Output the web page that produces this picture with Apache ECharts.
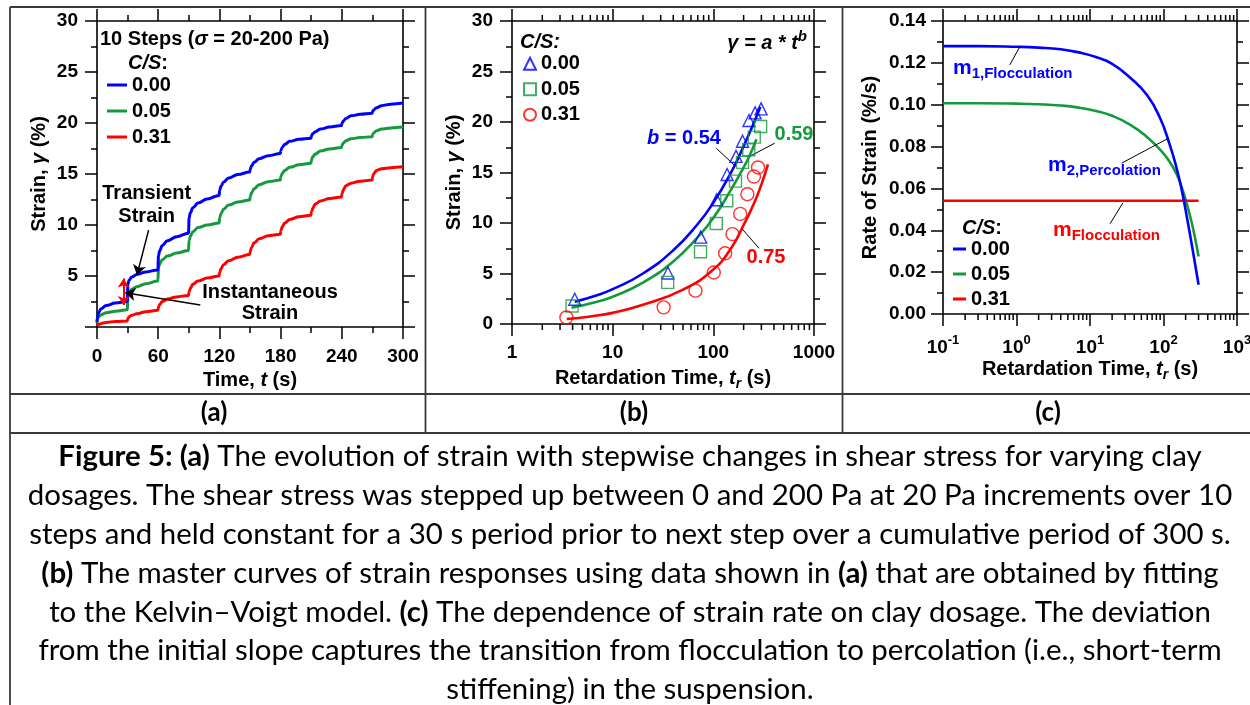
<!DOCTYPE html>
<html><head><meta charset="utf-8">
<script src="https://cdn.jsdelivr.net/npm/echarts@6/dist/echarts.min.js"></script>
<style>html,body{margin:0;padding:0;background:#fff}#main{width:1250px;height:705px}</style>
</head><body><div id="main"></div>
<script>
// ---------------- DATA ----------------
// Panel (a): strain (%) vs time (s) for three clay dosages (C/S)
const aTime = [0,0.3,1.5,4,9,18,29.7, 30.3,31.5,34,39,48,59.7, 60.3,61.5,64,69,78,89.7, 90.3,91.5,94,99,108,119.7,
  120.3,121.5,124,129,138,149.7, 150.3,151.5,154,159,168,179.7, 180.3,181.5,184,189,198,209.7,
  210.3,211.5,214,219,228,239.7, 240.3,241.5,244,249,258,269.7, 270.3,271.5,274,279,288,300];
const aStrain000 = [0.5,0.9,1.4,1.8,2.1,2.35,2.5, 4.2,4.6,4.9,5.15,5.4,5.6, 7.0,7.5,8.0,8.45,8.85,9.2,
  10.7,11.2,11.7,12.15,12.55,12.9, 13.4,13.8,14.2,14.6,14.95,15.2, 15.5,15.8,16.15,16.5,16.8,17.0,
  17.3,17.6,17.9,18.2,18.4,18.5, 18.75,18.95,19.15,19.4,19.6,19.75, 20.0,20.2,20.45,20.7,20.85,20.95,
  21.15,21.3,21.5,21.7,21.85,21.95];
const aStrain005 = [0.4,0.75,1.0,1.2,1.4,1.55,1.7, 3.1,3.4,3.7,3.95,4.25,4.5, 5.8,6.2,6.6,6.95,7.25,7.5,
  8.5,8.9,9.35,9.75,10.0,10.2, 10.7,11.1,11.55,11.95,12.25,12.45, 12.8,13.15,13.55,13.95,14.25,14.4,
  14.75,15.05,15.35,15.65,15.9,16.05, 16.4,16.7,16.95,17.25,17.45,17.6, 17.85,18.05,18.25,18.45,18.58,18.65,
  18.9,19.05,19.25,19.4,19.52,19.6];
const aStrain031 = [0.1,0.15,0.25,0.35,0.45,0.55,0.6, 0.85,1.0,1.15,1.3,1.5,1.65, 1.95,2.2,2.5,2.75,2.95,3.1,
  3.45,3.8,4.2,4.5,4.8,5.0, 5.35,5.7,6.1,6.5,6.85,7.1, 7.45,7.8,8.25,8.65,8.95,9.1,
  9.45,9.8,10.2,10.55,10.8,10.95, 11.3,11.65,12.05,12.35,12.6,12.75, 13.1,13.45,13.85,14.1,14.3,14.4,
  14.75,15.05,15.35,15.52,15.62,15.7];

// Panel (b): strain (%) vs retardation time (s), measured points
const bTime000 = [4.2,35.4,74.9,108,137,168,195,226,260,298];
const bStrain000 = [2.45,5.05,8.6,12.3,14.8,16.6,18.1,20.15,20.9,21.3];
const bTime005 = [3.95,35.2,74.6,107,136,166,195,225,255,295];
const bStrain005 = [1.78,4.12,7.15,9.95,12.2,14.15,16.0,17.25,18.5,19.55];
const bTime031 = [3.47,32.1,66.4,101,131,155,185,218,253,278];
const bStrain031 = [0.65,1.65,3.3,5.1,7.0,8.9,10.9,12.85,14.6,15.5];
// Panel (b): fitted power-law curves
const fitTime000 = [4.2,7,10,20,40,70,100,150,200,250,293];
const fitStrain000 = [2.2,2.85,3.45,5.0,7.3,9.9,12.0,15.0,17.6,19.8,21.5];
const fitTime005 = [3.9,7,10,20,40,70,100,150,200,230,268];
const fitStrain005 = [1.6,2.2,2.7,4.1,6.2,8.6,10.5,13.3,15.5,16.7,18.3];
const fitTime031 = [3.5,6,10,20,50,100,150,200,250,300,349];
const fitStrain031 = [0.5,0.75,1.1,1.9,3.4,5.4,7.5,9.8,11.8,13.8,15.8];

// Panel (c): rate of strain (%/s) vs retardation time (s)
const cTime000 = [0.1,0.3,1,2,4,7,12,20,35,60,90,120,150,180,210,240,270,300];
const cRate000 = [0.128,0.128,0.1277,0.1273,0.1265,0.125,0.1228,0.1195,0.113,0.1045,0.0935,0.0815,0.070,0.058,0.0455,0.034,0.0235,0.014];
const cTime005 = [0.1,0.3,1,2,4,7,12,20,35,60,90,120,150,180,210,240,270,300];
const cRate005 = [0.1007,0.1007,0.1005,0.1002,0.0996,0.0986,0.097,0.0947,0.0905,0.0845,0.0785,0.073,0.067,0.0598,0.052,0.0442,0.036,0.0275];
const cTime031 = [0.1,300];
const cRate031 = [0.0541,0.0541];

// tick values
const bMinorTicks = [2,3,4,5,6,7,8,9,20,30,40,50,60,70,80,90,200,300,400,500,600,700,800,900];
const cMinorTicks = [0.2,0.3,0.4,0.5,0.6,0.7,0.8,0.9,2,3,4,5,6,7,8,9,20,30,40,50,60,70,80,90,200,300,400,500,600,700,800,900];
const legendNames = ['0.00','0.05','0.31'];

const captionLines = [
  '{b|Figure 5: (a)} The evolution of strain with stepwise changes in shear stress for varying clay',
  'dosages. The shear stress was stepped up between 0 and 200 Pa at 20 Pa increments over 10',
  'steps and held constant for a 30 s period prior to next step over a cumulative period of 300 s.',
  '{b|(b)} The master curves of strain responses using data shown in {b|(a)} that are obtained by fitting',
  'to the Kelvin\u2013Voigt model. {b|(c)} The dependence of strain rate on clay dosage. The deviation',
  'from the initial slope captures the transition from flocculation to percolation (i.e., short-term',
  'stiffening) in the suspension.'
];

// ---------------- STYLE ----------------
const AR = '"Liberation Sans", Arial, sans-serif';
const CAL = 'Lato, "Open Sans", sans-serif';
const BLUE = '#0000ff', GREEN = '#149a3c', RED = '#ff0000';
const zip = (xs, ys) => xs.map((x, i) => [x, ys[i]]);

const axLine = {show: true, onZero: false, lineStyle: {color: '#000', width: 1.6}};
const tick = {show: true, inside: false, length: 12, lineStyle: {color: '#000', width: 1.5}};
const minor = n => ({show: true, splitNumber: n, length: 6, lineStyle: {color: '#000', width: 1.5}});
const lbl = {fontFamily: AR, fontWeight: 'bold', fontSize: 19, color: '#000'};
const nm = (extra) => Object.assign({fontFamily: AR, fontWeight: 'bold', fontSize: 20, color: '#000'}, extra || {});
const nameRich = {
  n: nm(), i: nm({fontStyle: 'italic'}),
  s: nm({fontSize: 14, fontStyle: 'italic', padding: [11, 0, 0, 0]})
};

function xBottom(grid, extra) {
  return Object.assign({gridIndex: grid, position: 'bottom', axisLine: axLine, axisTick: tick,
    splitLine: {show: false}, minorSplitLine: {show: false}, nameLocation: 'middle',
    nameTextStyle: nm({rich: nameRich})}, extra);
}
function xTop(grid, extra) {
  return Object.assign({gridIndex: grid, position: 'top', axisLine: axLine, axisTick: tick,
    axisLabel: {show: false}, splitLine: {show: false}, minorSplitLine: {show: false}}, extra);
}
function yLeft(grid, extra) {
  return Object.assign({gridIndex: grid, position: 'left', type: 'value', axisLine: axLine, axisTick: tick,
    splitLine: {show: false}, minorSplitLine: {show: false}, nameLocation: 'middle',
    nameTextStyle: nm({rich: nameRich})}, extra);
}
function yRight(grid, extra) {
  return Object.assign({gridIndex: grid, position: 'right', type: 'value', axisLine: axLine, axisTick: tick,
    axisLabel: {show: false}, splitLine: {show: false}, minorSplitLine: {show: false}}, extra);
}

function minorLogRender(yMin, yMax) {
  return function (params, api) {
    const v = api.value(0);
    const b = api.coord([v, yMin]);
    const t = api.coord([v, yMax]);
    const st = {stroke: '#000', lineWidth: 1.5};
    return {type: 'group', children: [
      {type: 'line', shape: {x1: b[0], y1: b[1], x2: b[0], y2: b[1] + 6}, style: st},
      {type: 'line', shape: {x1: t[0], y1: t[1], x2: t[0], y2: t[1] - 6}, style: st}
    ]};
  };
}

const leader = (pairs) => ({
  silent: true, symbol: ['none', 'none'], label: {show: false}, emphasis: {disabled: true},
  lineStyle: {color: '#000', width: 1, type: 'solid'},
  data: pairs.map(p => [{coord: p[0]}, {coord: p[1]}])
});

// ---------------- TEXT HELPERS ----------------
function rt(extra) { return Object.assign({fontFamily: AR, fontWeight: 'bold', fontSize: 20, fill: '#000'}, extra || {}); }
function T(x, y, text, opts) {
  return {type: 'text', x: x, y: y, silent: true,
    style: Object.assign({text: text, fontFamily: AR, fontWeight: 'bold', fontSize: 20, fill: '#000',
      align: 'left', verticalAlign: 'middle'}, opts || {})};
}
function L(x1, y1, x2, y2) {
  return {type: 'line', silent: true, shape: {x1, y1, x2, y2}, style: {stroke: '#3a3a3a', lineWidth: 1.8}};
}

// caption font size fitted to the reference line width
const mctx = document.createElement('canvas').getContext('2d');
mctx.font = '28px Lato';
const capFs = Math.min(30, 28 * 1205 / mctx.measureText(captionLines[1]).width);

const graphics = [
  L(10, 7, 1250, 7), L(10, 7, 10, 705), L(425.5, 7, 425.5, 433), L(842.5, 7, 842.5, 433),
  L(10, 394, 1250, 394), L(10, 433, 1250, 433),
  T(214, 413, '(a)', {fontFamily: CAL, fontSize: 26, align: 'center'}),
  T(634, 413, '(b)', {fontFamily: CAL, fontSize: 26, align: 'center'}),
  T(1048, 413, '(c)', {fontFamily: CAL, fontSize: 26, align: 'center'}),
  // panel a
  T(100, 39, '10 Steps ({i|\u03c3} = 20-200 Pa)', {rich: {i: rt({fontStyle: 'italic'})}}),
  T(128, 63, '{i|C/S}:', {rich: {i: rt({fontStyle: 'italic'})}}),
  T(146.7, 205, 'Transient\nStrain', {align: 'center', lineHeight: 23.4}),
  T(270, 303, 'Instantaneous\nStrain', {align: 'center', lineHeight: 21.7}),
  // panel b
  T(520, 42, '{i|C/S:}', {rich: {i: rt({fontStyle: 'italic'})}}),
  T(807, 43, '{i|\u03b3 = a * t}{p|b}', {align: 'right', rich: {
    i: rt({fontStyle: 'italic'}), p: rt({fontStyle: 'italic', fontSize: 15, padding: [0, 0, 12, 0]})}}),
  T(684, 138, '{i|b}{n| = 0.54}', {align: 'center', rich: {
    i: rt({fontStyle: 'italic', fill: BLUE}), n: rt({fill: BLUE})}}),
  T(794, 134, '0.59', {align: 'center', fill: GREEN}),
  T(766, 257, '0.75', {align: 'center', fill: RED}),
  // panel c
  T(953, 68, '{m|m}{s|1,Flocculation}', {rich: {m: rt({fontSize: 21, fill: BLUE}), s: rt({fontSize: 15, fill: BLUE, padding: [12, 0, 0, 0]})}}),
  T(1048, 165, '{m|m}{s|2,Percolation}', {rich: {m: rt({fontSize: 21, fill: BLUE}), s: rt({fontSize: 15, fill: BLUE, padding: [12, 0, 0, 0]})}}),
  T(1053, 230, '{m|m}{s|Flocculation}', {rich: {m: rt({fontSize: 21, fill: RED}), s: rt({fontSize: 15, fill: RED, padding: [12, 0, 0, 0]})}}),
  T(962, 228, '{i|C/S}:', {rich: {i: rt({fontStyle: 'italic'})}})
];
captionLines.forEach((line, i) => {
  graphics.push(T(630, 457 + i * 38.8, line, {
    fontFamily: CAL, fontWeight: 'normal', fontSize: capFs, align: 'center',
    rich: {b: rt({fontFamily: CAL, fontSize: capFs, fontWeight: 'bold'})}
  }));
});

// ---------------- OPTION ----------------
const legendBase = {orient: 'vertical', padding: 0, itemGap: 0, selectedMode: false,
  formatter: n => n.split(':')[1]};
const legendText = (lh) => ({fontFamily: AR, fontWeight: 'bold', fontSize: 20, color: '#000', lineHeight: lh});

const option = {
  animation: false,
  backgroundColor: '#fff',
  grid: [
    {left: 97, top: 21, width: 306, height: 306, outerBoundsMode: 'none'},
    {left: 512, top: 21, width: 302, height: 303, outerBoundsMode: 'none'},
    {left: 943, top: 21, width: 294, height: 293, outerBoundsMode: 'none'}
  ],
  xAxis: [
    xBottom(0, {type: 'value', min: 0, max: 300, interval: 60, minorTick: minor(2),
      axisLabel: Object.assign({}, lbl, {margin: 20}),
      name: '{n|Time, }{i|t}{n| (s)}', nameGap: 43}),
    xTop(0, {type: 'value', min: 0, max: 300, interval: 60, minorTick: minor(2)}),
    xBottom(1, {type: 'log', logBase: 10, min: 1, max: 1000,
      axisLabel: Object.assign({}, lbl, {margin: 19, formatter: v => String(Math.round(v))}),
      name: '{n|Retardation Time, }{i|t}{s|r}{n| (s)}', nameGap: 42}),
    xTop(1, {type: 'log', logBase: 10, min: 1, max: 1000}),
    xBottom(2, {type: 'log', logBase: 10, min: 0.1, max: 1000,
      axisLabel: Object.assign({}, lbl, {margin: 20,
        formatter: v => '10{p|' + Math.round(Math.log10(v)) + '}',
        rich: {p: {fontFamily: AR, fontWeight: 'bold', fontSize: 13, color: '#000', padding: [0, 0, 14, 0]}}}),
      name: '{n|Retardation Time, }{i|t}{s|r}{n| (s)}', nameGap: 43}),
    xTop(2, {type: 'log', logBase: 10, min: 0.1, max: 1000})
  ],
  yAxis: [
    yLeft(0, {min: 0, max: 30, interval: 5, minorTick: minor(2),
      axisLabel: Object.assign({}, lbl, {margin: 19, formatter: v => (v === 0 ? '' : String(v))}),
      name: '{n|Strain, }{i|\u03b3}{n| (%)}', nameGap: 48}),
    yRight(0, {min: 0, max: 30, interval: 5, minorTick: minor(2)}),
    yLeft(1, {min: 0, max: 30, interval: 5, minorTick: minor(2),
      axisLabel: Object.assign({}, lbl, {margin: 19}),
      name: '{n|Strain, }{i|\u03b3}{n| (%)}', nameGap: 48}),
    yRight(1, {min: 0, max: 30, interval: 5, minorTick: minor(2)}),
    yLeft(2, {min: 0, max: 0.14, interval: 0.02, minorTick: minor(2),
      axisLabel: Object.assign({}, lbl, {margin: 17, formatter: v => v.toFixed(2)}),
      name: '{n|Rate of Strain (%/s)}', nameGap: 63}),
    yRight(2, {min: 0, max: 0.14, interval: 0.02, minorTick: minor(2)})
  ],
  legend: [
    Object.assign({}, legendBase, {data: legendNames.map(n => 'a:' + n), left: 107, top: 72,
      icon: 'rect', itemWidth: 20, itemHeight: 3, textStyle: legendText(26)}),
    Object.assign({}, legendBase, {data: legendNames.map(n => 'b:' + n), left: 523, top: 51,
      itemWidth: 12, itemHeight: 12, textStyle: legendText(25.5)}),
    Object.assign({}, legendBase, {data: legendNames.map(n => 'c:' + n), left: 953, top: 236.5,
      icon: 'rect', itemWidth: 13, itemHeight: 3, textStyle: legendText(25)})
  ],
  graphic: {elements: graphics},
  series: [
    // ---- panel a
    {name: 'a:0.00', type: 'line', xAxisIndex: 0, yAxisIndex: 0, data: zip(aTime, aStrain000),
      showSymbol: false, symbol: 'none', smooth: 0.4, smoothMonotone: 'x', color: BLUE,
      lineStyle: {width: 3, color: BLUE}, z: 4,
      markLine: {silent: true, symbol: ['none', 'arrow'], symbolSize: 10, label: {show: false},
        emphasis: {disabled: true}, lineStyle: {color: '#000', width: 1.5, type: 'solid'},
        data: [[{coord: [50.6, 9.5]}, {coord: [39.2, 5.1]}], [{coord: [101.3, 2.16]}, {coord: [27.7, 3.36]}]]}},
    {name: 'a:0.05', type: 'line', xAxisIndex: 0, yAxisIndex: 0, data: zip(aTime, aStrain005),
      showSymbol: false, symbol: 'none', smooth: 0.4, smoothMonotone: 'x', color: GREEN,
      lineStyle: {width: 3, color: GREEN}, z: 3},
    {name: 'a:0.31', type: 'line', xAxisIndex: 0, yAxisIndex: 0, data: zip(aTime, aStrain031),
      showSymbol: false, symbol: 'none', smooth: 0.4, smoothMonotone: 'x', color: RED,
      lineStyle: {width: 3, color: RED}, z: 3,
      markLine: {silent: true, symbol: ['arrow', 'arrow'], symbolSize: 9, label: {show: false},
        emphasis: {disabled: true}, lineStyle: {color: RED, width: 2, type: 'solid'},
        data: [[{coord: [26.1, 4.75]}, {coord: [26.1, 2.15]}]]}},
    // ---- panel b
    {name: 'b:fit0.00', type: 'line', xAxisIndex: 2, yAxisIndex: 2, data: zip(fitTime000, fitStrain000),
      showSymbol: false, symbol: 'none', smooth: 0.5, color: BLUE,
      lineStyle: {width: 2.6, color: BLUE},
      markLine: leader([[[107, 17.4], [163, 15.7]], [[407, 17.9], [230, 16.6]], [[284, 7.5], [194, 9.4]]])},
    {name: 'b:fit0.05', type: 'line', xAxisIndex: 2, yAxisIndex: 2, data: zip(fitTime005, fitStrain005),
      showSymbol: false, symbol: 'none', smooth: 0.5, color: GREEN,
      lineStyle: {width: 2.6, color: GREEN}},
    {name: 'b:fit0.31', type: 'line', xAxisIndex: 2, yAxisIndex: 2, data: zip(fitTime031, fitStrain031),
      showSymbol: false, symbol: 'none', smooth: 0.5, color: RED,
      lineStyle: {width: 2.6, color: RED}},
    {name: 'b:0.00', type: 'scatter', xAxisIndex: 2, yAxisIndex: 2, data: zip(bTime000, bStrain000),
      symbol: 'triangle', symbolSize: 12, color: BLUE, z: 5,
      itemStyle: {color: 'rgba(255,255,255,0)', borderColor: BLUE, borderWidth: 1.4}},
    {name: 'b:0.05', type: 'scatter', xAxisIndex: 2, yAxisIndex: 2, data: zip(bTime005, bStrain005),
      symbol: 'rect', symbolSize: 12, color: GREEN, z: 5,
      itemStyle: {color: 'rgba(255,255,255,0)', borderColor: GREEN, borderWidth: 1.4}},
    {name: 'b:0.31', type: 'scatter', xAxisIndex: 2, yAxisIndex: 2, data: zip(bTime031, bStrain031),
      symbol: 'circle', symbolSize: 13, color: RED, z: 5,
      itemStyle: {color: 'rgba(255,255,255,0)', borderColor: RED, borderWidth: 1.4}},
    {name: 'b:minor', type: 'custom', xAxisIndex: 2, yAxisIndex: 2, clip: false, silent: true,
      data: bMinorTicks.map(v => [v, 0]), encode: {x: 0, y: 1}, renderItem: minorLogRender(0, 30)},
    // ---- panel c
    {name: 'c:0.00', type: 'line', xAxisIndex: 4, yAxisIndex: 4, data: zip(cTime000, cRate000),
      showSymbol: false, symbol: 'none', smooth: 0.5, color: BLUE,
      lineStyle: {width: 2.6, color: BLUE}, z: 4,
      markLine: leader([[[0.81, 0.119], [1.11, 0.1277]], [[27, 0.0721], [117, 0.084]], [[18.7, 0.0431], [27.9, 0.053]]])},
    {name: 'c:0.05', type: 'line', xAxisIndex: 4, yAxisIndex: 4, data: zip(cTime005, cRate005),
      showSymbol: false, symbol: 'none', smooth: 0.5, color: GREEN,
      lineStyle: {width: 2.6, color: GREEN}, z: 3},
    {name: 'c:0.31', type: 'line', xAxisIndex: 4, yAxisIndex: 4, data: zip(cTime031, cRate031),
      showSymbol: false, symbol: 'none', color: RED,
      lineStyle: {width: 2.6, color: RED}, z: 3},
    {name: 'c:minor', type: 'custom', xAxisIndex: 4, yAxisIndex: 4, clip: false, silent: true,
      data: cMinorTicks.map(v => [v, 0]), encode: {x: 0, y: 1}, renderItem: minorLogRender(0, 0.14)}
  ]
};

const chart = echarts.init(document.getElementById('main'), null, {renderer: 'canvas'});
chart.setOption(option);
</script>
</body></html>
